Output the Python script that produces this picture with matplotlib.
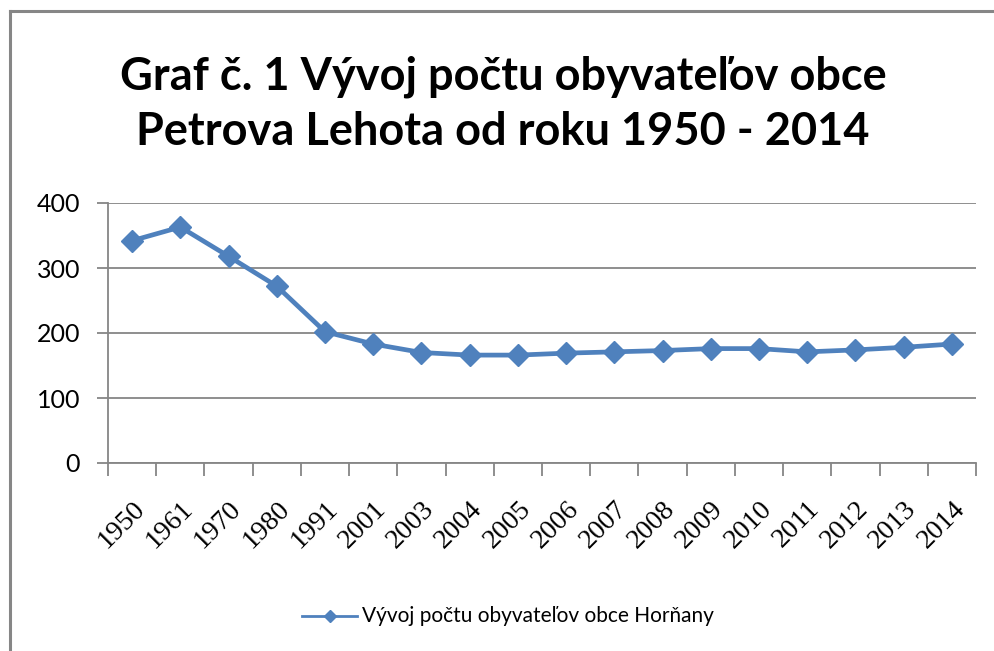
import matplotlib
matplotlib.use("Agg")
import matplotlib.pyplot as plt
from matplotlib.lines import Line2D
import numpy as np

years = ["1950", "1961", "1970", "1980", "1991", "2001", "2003", "2004", "2005",
         "2006", "2007", "2008", "2009", "2010", "2011", "2012", "2013", "2014"]
population = [342, 363, 318, 272, 202, 183, 170, 166, 166,
              169, 171, 173, 176, 176, 171, 174, 178, 183]
yticks = [0, 100, 200, 300, 400]
title = "Graf č. 1 Vývoj počtu obyvateľov obce\nPetrova Lehota od roku 1950 - 2014"
series_label = "Vývoj počtu obyvateľov obce Horňany"

W, H = 994, 651
fig = plt.figure(figsize=(W / 100, H / 100), dpi=100)
fig.patch.set_facecolor("white")

# partial outer frame (top and left visible)
fig.add_artist(Line2D([10 / W, 1.0], [1 - 11 / H, 1 - 11 / H], color="#868686", lw=2.2,
                      transform=fig.transFigure))
fig.add_artist(Line2D([10 / W, 10 / W], [0.0, 1 - 11 / H], color="#868686", lw=2.2,
                      transform=fig.transFigure))

ax = fig.add_axes([108 / W, 1 - 463 / H, (976 - 108) / W, (463 - 203) / H])
x = np.arange(len(years))
color = "#4F81BD"
ax.plot(x, population, color=color, lw=3.4, marker="D", ms=11, mec=color, mfc=color,
        solid_joinstyle="round")

ax.set_xlim(-0.5, len(years) - 0.5)
ax.set_ylim(0, 400)
ax.set_yticks(yticks)
ax.set_yticklabels([str(v) for v in yticks], fontsize=18, family=["Lato", "DejaVu Sans"])
ax.yaxis.grid(True, color="#868686", lw=1.3)
ax.set_axisbelow(True)

ax.set_xticks(x)
ax.set_xticklabels(years, rotation=45, ha="right", va="top", rotation_mode="anchor",
                   fontsize=20, family=["Liberation Serif", "DejaVu Serif"])
ax.tick_params(axis="x", which="major", length=0, pad=24)
ax.set_xticks(np.arange(-0.5, len(years), 1.0), minor=True)
ax.tick_params(axis="x", which="minor", length=9, width=1.3, color="#868686", direction="out")
ax.tick_params(axis="y", length=8, width=1.3, color="#868686", direction="out", pad=12)

for s in ["top", "right"]:
    ax.spines[s].set_visible(False)
for s in ["left", "bottom"]:
    ax.spines[s].set_color("#868686")
    ax.spines[s].set_linewidth(1.3)

fig.text(503 / W, 1 - 104 / H, title, ha="center", va="center", fontsize=32.5,
         fontweight="bold", linespacing=1.38,
         family=["Lato", "DejaVu Sans"])

# legend
ly = 1 - 616 / H
fig.add_artist(Line2D([302 / W, 357 / W], [ly, ly], color=color, lw=2,
                      transform=fig.transFigure))
fig.add_artist(Line2D([330 / W], [ly], color=color, marker="D", ms=6, mec=color, mfc=color,
                      transform=fig.transFigure))
fig.text(362 / W, ly, series_label, ha="left", va="center", fontsize=15,
         family=["Lato", "DejaVu Sans"])

fig.savefig("out.png", dpi=100, facecolor="white")
